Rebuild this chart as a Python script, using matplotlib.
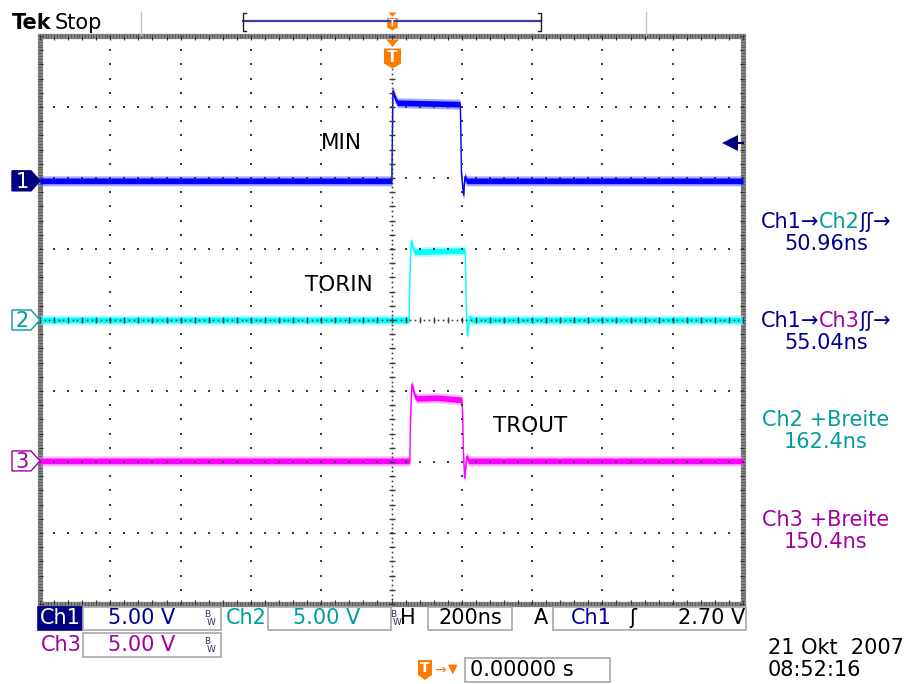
import matplotlib
matplotlib.use("Agg")
import matplotlib.pyplot as plt
import numpy as np
from matplotlib.patches import Polygon, Rectangle

# channel traces: key points (time in ns, level in V)
ch1_t = [-1000, 1, 4, 9, 17, 100, 193, 196, 199, 205, 209, 214, 1000]
ch1_v = [0.0, 0.0, 6.35, 5.9, 5.5, 5.45, 5.4, 5.3, 0.5, -1.0, 0.3, 0.0, 0.0]
ch2_t = [-1000, 50, 52, 56, 65, 140, 208, 210, 213, 216, 222, 228, 1000]
ch2_v = [0.0, 0.0, 3.0, 5.55, 4.8, 4.85, 4.9, 4.5, 0.5, -1.1, 0.2, 0.0, 0.0]
ch3_t = [-1000, 52, 54, 58, 66, 72, 130, 200, 202, 205, 208, 214, 220, 1000]
ch3_v = [0.0, 0.0, 3.0, 5.4, 4.6, 4.4, 4.45, 4.3, 3.5, 0.3, -1.2, 0.3, 0.0, 0.0]

offsets = [1.96, 0.0, -1.985]          # ground markers, divisions
volts_per_div = 5.0
ns_per_div = 200.0
trig_level = 2.70

labels = ["MIN", "TORIN", "TROUT"]
label_pos = [(-202, 2.49), (-247, 0.49), (290, -1.49)]

readouts = [
    ([("Ch1\u2192", "ch1"), ("Ch2", "ch2"), ("\u0283\u0283\u2192", "ch1")], 222),
    ([("50.96ns", "ch1")], 244),
    ([("Ch1\u2192", "ch1"), ("Ch3", "ch3"), ("\u0283\u0283\u2192", "ch1")], 321),
    ([("55.04ns", "ch1")], 343),
    ([("Ch2 +Breite", "ch2")], 420),
    ([("162.4ns", "ch2")], 442),
    ([("Ch3 +Breite", "ch3")], 520),
    ([("150.4ns", "ch3")], 542),
]

TRACE = {"ch1": "#0000ff", "ch2": "#00ffff", "ch3": "#ff00ff"}
FRINGE = {"ch1": "#5050ff", "ch2": "#70ffff", "ch3": "#ff70ff"}
TEXT = {"ch1": "#000090", "ch2": "#009c9c", "ch3": "#a000a0"}
NAVY = "#000080"
ORANGE = "#ff7a00"
GRID = "#3a3a3a"

W, H = 909, 684
L, R, T, B = 40, 743, 36, 604
fig = plt.figure(figsize=(W / 100, H / 100), dpi=100)
fig.patch.set_facecolor("white")

ax = fig.add_axes([L / W, 1 - B / H, (R - L) / W, (B - T) / H], zorder=1)
ax.set_xlim(-5 * ns_per_div, 5 * ns_per_div)
ax.set_ylim(-4, 4)
ax.axis("off")

ov = fig.add_axes([0, 0, 1, 1], zorder=2)
ov.set_xlim(0, W)
ov.set_ylim(H, 0)
ov.axis("off")
ov.patch.set_alpha(0)

# graticule, drawn over the traces like on the scope
ys = np.arange(-4, 4.001, 0.2)
xs = np.arange(-1000, 1000.1, 40)
for k in range(1, 10):
    x = -1000 + k * ns_per_div
    if k == 5:
        continue
    ax.plot(np.full_like(ys, x), ys, ls="none", marker="s", ms=1.5, color=GRID, mew=0, zorder=8)
for k in range(-3, 4):
    if k == 0:
        continue
    ax.plot(xs, np.full_like(xs, k), ls="none", marker="s", ms=1.5, color=GRID, mew=0, zorder=8)
# centre axes with minor ticks
fine_y = np.arange(-4, 4.001, 0.2 / 3)
fine_x = np.arange(-1000, 1000.1, 40 / 3)
ax.plot(np.zeros_like(fine_y), fine_y, ls="none", marker="s", ms=1.2, color=GRID, mew=0, zorder=8)
ax.plot(fine_x, np.zeros_like(fine_x), ls="none", marker="s", ms=1.2, color=GRID, mew=0, zorder=8)
ax.plot(np.zeros_like(ys), ys, ls="none", marker="_", ms=5, color=GRID, mew=1, zorder=8)
ax.plot(xs, np.zeros_like(xs), ls="none", marker="|", ms=5, color=GRID, mew=1, zorder=8)

# frame with ruler ticks
ax.add_patch(Rectangle((-1000, -4), 2000, 8, fill=False, ec="#858585", lw=3.8,
                       clip_on=False, zorder=3))
ruler_x = np.arange(-1000, 1000.1, 8)
ruler_y = np.arange(-4, 4.001, 0.04)
for yy in (4, -4):
    ax.plot(ruler_x, np.full_like(ruler_x, yy), ls="none", marker="|", ms=2.2,
            color="#4a4a4a", mew=0.5, clip_on=False, zorder=4)
    ax.plot(xs, np.full_like(xs, yy - 0.03 * np.sign(yy)), ls="none", marker="|",
            ms=3.5, color="#333333", mew=0.8, clip_on=False, zorder=4)
for xx in (-1000, 1000):
    ax.plot(np.full_like(ruler_y, xx), ruler_y, ls="none", marker="_", ms=2.2,
            color="#4a4a4a", mew=0.5, clip_on=False, zorder=4)
    ax.plot(np.full_like(ys, xx - 4 * np.sign(xx)), ys, ls="none", marker="_",
            ms=3.5, color="#333333", mew=0.8, clip_on=False, zorder=4)

# traces
for t, v, off, ch in [(ch1_t, ch1_v, offsets[0], "ch1"),
                      (ch2_t, ch2_v, offsets[1], "ch2"),
                      (ch3_t, ch3_v, offsets[2], "ch3")]:
    y = off + np.asarray(v) / volts_per_div
    ax.fill_between(t, y - 0.07, y + 0.07, color=FRINGE[ch], alpha=0.5, lw=0, zorder=5)
    ax.fill_between(t, y - 0.04, y + 0.04, color=TRACE[ch], lw=0, zorder=6)
    ax.plot(t, y, color=TRACE[ch], lw=1.0, zorder=6)

for txt, (x, y) in zip(labels, label_pos):
    ax.text(x, y, txt, fontsize=15.5, color="black", va="center", ha="left", zorder=9)

# trigger level arrow (Ch1)
lvl = offsets[0] + trig_level / volts_per_div
ax.plot([965, 1000], [lvl, lvl], color=NAVY, lw=1.5, clip_on=False, zorder=9)
ax.plot([962], [lvl], marker="<", ms=11, color=NAVY, mew=0, zorder=9)

# channel ground markers
def div_to_px(d):
    return T + (4 - d) * (B - T) / 8

for i, (off, ch) in enumerate(zip(offsets, ["ch1", "ch2", "ch3"])):
    yc = div_to_px(off)
    pts = [(12, yc - 10), (31, yc - 10), (40, yc), (31, yc + 10), (12, yc + 10)]
    if i == 0:
        ov.add_patch(Polygon(pts, closed=True, fc=NAVY, ec=NAVY, lw=1))
        col = "white"
    else:
        ov.add_patch(Polygon(pts, closed=True, fc="white", ec=TEXT[ch], lw=1))
        col = TEXT[ch]
    ov.text(22, yc + 1, str(i + 1), color=col, fontsize=15, ha="center", va="center")


def t_marker(xc, ytop, scale):
    s = scale
    ov.add_patch(Polygon([(xc - 6.5 * s, ytop), (xc + 6.5 * s, ytop), (xc, ytop + 7 * s)],
                         closed=True, fc=ORANGE, ec="none"))
    b = ytop + 9 * s
    ov.add_patch(Polygon([(xc - 8.5 * s, b), (xc + 8.5 * s, b), (xc + 8.5 * s, b + 15 * s),
                          (xc, b + 20 * s), (xc - 8.5 * s, b + 15 * s)],
                         closed=True, fc=ORANGE, ec="none"))
    ov.text(xc, b + 8.5 * s, "T", color="white", fontsize=11 * s, fontweight="bold",
            ha="center", va="center")


t_marker(392.5, 39.5, 1.0)

# header
ov.text(12, 23, "Tek", fontsize=15, fontweight="bold", ha="left", va="center",
        family=["Liberation Sans Narrow", "DejaVu Sans"])
ov.text(55, 23, "Stop", fontsize=15, ha="left", va="center",
        family=["Liberation Sans Narrow", "DejaVu Sans"])
for x in (141, 646):
    ov.plot([x, x], [12, 35], color="#c4c4c4", lw=1)
ov.plot([243, 541], [21, 21], color="#3a3aa8", lw=1.6)
ov.plot([246, 243, 243, 246], [13, 13, 31, 31], color="#222222", lw=1)
ov.plot([538, 541, 541, 538], [13, 13, 31, 31], color="#222222", lw=1)
t_marker(392.5, 12.5, 0.62)

# bottom status bar
FS = 15


def box(x0, x1, y0, y1, fc="white", ec="#a8a8a8"):
    ov.add_patch(Rectangle((x0, y0), x1 - x0, y1 - y0, fc=fc, ec=ec, lw=1.2))


def bw(x, y):
    ov.text(x, y - 4, "B", fontsize=6.5, color="#303060", ha="center", va="center")
    ov.text(x + 4, y + 4, "W", fontsize=6.5, color="#303060", ha="center", va="center")


r1, r2, r3 = 618.5, 645, 670
box(38, 82, 607, 630, fc=NAVY, ec=NAVY)
ov.text(60, r1, "Ch1", color="white", fontsize=FS, ha="center", va="center")
box(83, 221, 607, 630)
ov.text(142, r1, "5.00 V", color=TEXT["ch1"], fontsize=FS, ha="center", va="center")
bw(207, r1)
ov.text(246, r1, "Ch2", color=TEXT["ch2"], fontsize=FS, ha="center", va="center")
box(268, 391, 607, 630)
ov.text(327, r1, "5.00 V", color=TEXT["ch2"], fontsize=FS, ha="center", va="center")
bw(393, r1)
ov.text(408, r1, "H", color="black", fontsize=FS, ha="center", va="center")
box(428, 512, 607, 630)
ov.text(470, r1, "200ns", color="black", fontsize=FS, ha="center", va="center")
ov.text(541, r1, "A", color="black", fontsize=FS, ha="center", va="center")
box(553, 746, 607, 630)
ov.text(591, r1, "Ch1", color=TEXT["ch1"], fontsize=FS, ha="center", va="center")
ov.text(633, r1, "\u0283", color="black", fontsize=FS, ha="center", va="center")
ov.text(745, r1, "2.70 V", color="black", fontsize=FS, ha="right", va="center")

ov.text(61, r2, "Ch3", color=TEXT["ch3"], fontsize=FS, ha="center", va="center")
box(83, 221, 633, 657)
ov.text(142, r2, "5.00 V", color=TEXT["ch3"], fontsize=FS, ha="center", va="center")
bw(207, r2)

ov.add_patch(Polygon([(418, 660), (432, 660), (432, 675), (425, 680), (418, 675)],
                     closed=True, fc=ORANGE, ec="none"))
ov.text(425, 668, "T", color="white", fontsize=10, fontweight="bold", ha="center", va="center")
ov.text(440, r3, "\u2192", color=ORANGE, fontsize=10, ha="center", va="center")
ov.text(453, r3 - 1, "\u25bc", color=ORANGE, fontsize=9, ha="center", va="center")
box(465, 610, 658, 682)
ov.text(470, r3, "0.00000 s", color="black", fontsize=FS, ha="left", va="center")

ov.text(768, 648, "21 Okt  2007", color="black", fontsize=FS, ha="left", va="center")
ov.text(768, 670, "08:52:16", color="black", fontsize=FS, ha="left", va="center")

# measurement readouts on the right, multi-coloured lines centred
renderer = fig.canvas.get_renderer()
for parts, y in readouts:
    items = [ov.text(0, y, s, color=TEXT[c], fontsize=FS, ha="left", va="center")
             for s, c in parts]
    widths = [it.get_window_extent(renderer).width for it in items]
    x = 826 - sum(widths) / 2
    for it, w in zip(items, widths):
        it.set_x(x)
        x += w

fig.savefig("out.png", dpi=100, facecolor="white")
